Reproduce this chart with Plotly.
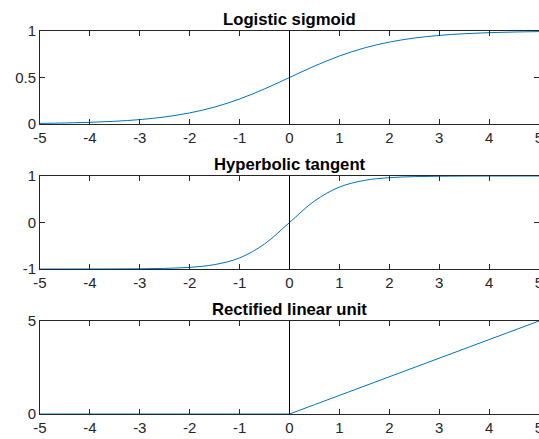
import plotly.graph_objects as go

# Sample points along the input axis
x_vals = [-5.0, -4.5, -4.0, -3.5, -3.0, -2.5, -2.0, -1.5, -1.0, -0.5, 0.0,
          0.5, 1.0, 1.5, 2.0, 2.5, 3.0, 3.5, 4.0, 4.5, 5.0]

sigmoid_vals = [0.0067, 0.0110, 0.0180, 0.0293, 0.0474, 0.0759, 0.1192, 0.1824,
                0.2689, 0.3775, 0.5000, 0.6225, 0.7311, 0.8176, 0.8808, 0.9241,
                0.9526, 0.9707, 0.9820, 0.9890, 0.9933]

tanh_vals = [-0.9999, -0.9998, -0.9993, -0.9982, -0.9951, -0.9866, -0.9640, -0.9051,
             -0.7616, -0.4621, 0.0000, 0.4621, 0.7616, 0.9051, 0.9640, 0.9866,
             0.9951, 0.9982, 0.9993, 0.9998, 0.9999]

relu_vals = [0.0, 0.0, 0.0, 0.0, 0.0, 0.0, 0.0, 0.0, 0.0, 0.0, 0.0,
             0.5, 1.0, 1.5, 2.0, 2.5, 3.0, 3.5, 4.0, 4.5, 5.0]

titles = ["Logistic sigmoid", "Hyperbolic tangent", "Rectified linear unit"]
y_ranges = [[0, 1], [-1, 1], [0, 5]]
y_ticks = [[0, 0.5, 1], [-1, 0, 1], [0, 5]]
y_ticklabels = [["0", "0.5", "1"], ["-1", "0", "1"], ["0", "5"]]
x_ticks = [-5, -4, -3, -2, -1, 0, 1, 2, 3, 4, 5]
series = [sigmoid_vals, tanh_vals, relu_vals]

W, H = 539, 439
# vertical pixel extents of each panel (top, bottom)
panels = [(31, 124), (176, 269), (321, 414)]

AX = "#262626"
LINE = "#0072BD"
FONT = "Liberation Sans, Arial, Helvetica, sans-serif"
TICK_SIZE = 15
TITLE_SIZE = 16.7

fig = go.Figure()
layout = dict(
    width=W, height=H,
    margin=dict(l=40, r=0, t=0, b=0, pad=0, autoexpand=False),
    paper_bgcolor="white", plot_bgcolor="white",
    showlegend=False,
    font=dict(family=FONT, size=TICK_SIZE, color=AX),
    shapes=[], annotations=[],
)

for i, (ys, (top, bot)) in enumerate(zip(series, panels)):
    n = "" if i == 0 else str(i + 1)
    xa, ya = "x" + n, "y" + n
    fig.add_trace(go.Scatter(
        x=x_vals, y=ys, mode="lines",
        line=dict(color=LINE, width=1, shape="spline" if i < 2 else "linear", smoothing=1.0),
        xaxis=xa, yaxis=ya, hoverinfo="skip",
    ))
    dom = [1 - bot / H, 1 - top / H]
    layout["xaxis" + n] = dict(
        domain=[0, 1], range=[-5, 5], anchor=ya,
        tickmode="array", tickvals=x_ticks, ticktext=[str(v) for v in x_ticks],
        ticks="inside", ticklen=5, tickwidth=1, tickcolor=AX,
        showline=True, linecolor=AX, linewidth=1, mirror="ticks",
        showgrid=False, zeroline=False, fixedrange=True, automargin=False,
        ticklabeloverflow="allow",
        tickfont=dict(family=FONT, size=TICK_SIZE, color=AX),
    )
    layout["yaxis" + n] = dict(
        domain=dom, range=y_ranges[i], anchor=xa,
        tickmode="array", tickvals=y_ticks[i], ticktext=y_ticklabels[i],
        ticks="inside", ticklen=5, tickwidth=1, tickcolor=AX,
        showline=True, linecolor=AX, linewidth=1, mirror="ticks",
        showgrid=False, zeroline=False, fixedrange=True, automargin=False,
        tickfont=dict(family=FONT, size=TICK_SIZE, color=AX),
    )
    # vertical reference line at x = 0
    layout["shapes"].append(dict(
        type="line", xref=xa, yref=ya + " domain",
        x0=0, x1=0, y0=0, y1=1, line=dict(color="black", width=1),
    ))
    layout["annotations"].append(dict(
        text="<b>" + titles[i] + "</b>", xref=xa + " domain", yref=ya + " domain",
        x=0.5, y=1, xanchor="center", yanchor="bottom", yshift=0,
        showarrow=False, font=dict(family=FONT, size=TITLE_SIZE, color="black"),
    ))

fig.update_layout(**layout)
fig.write_html("out.html")
